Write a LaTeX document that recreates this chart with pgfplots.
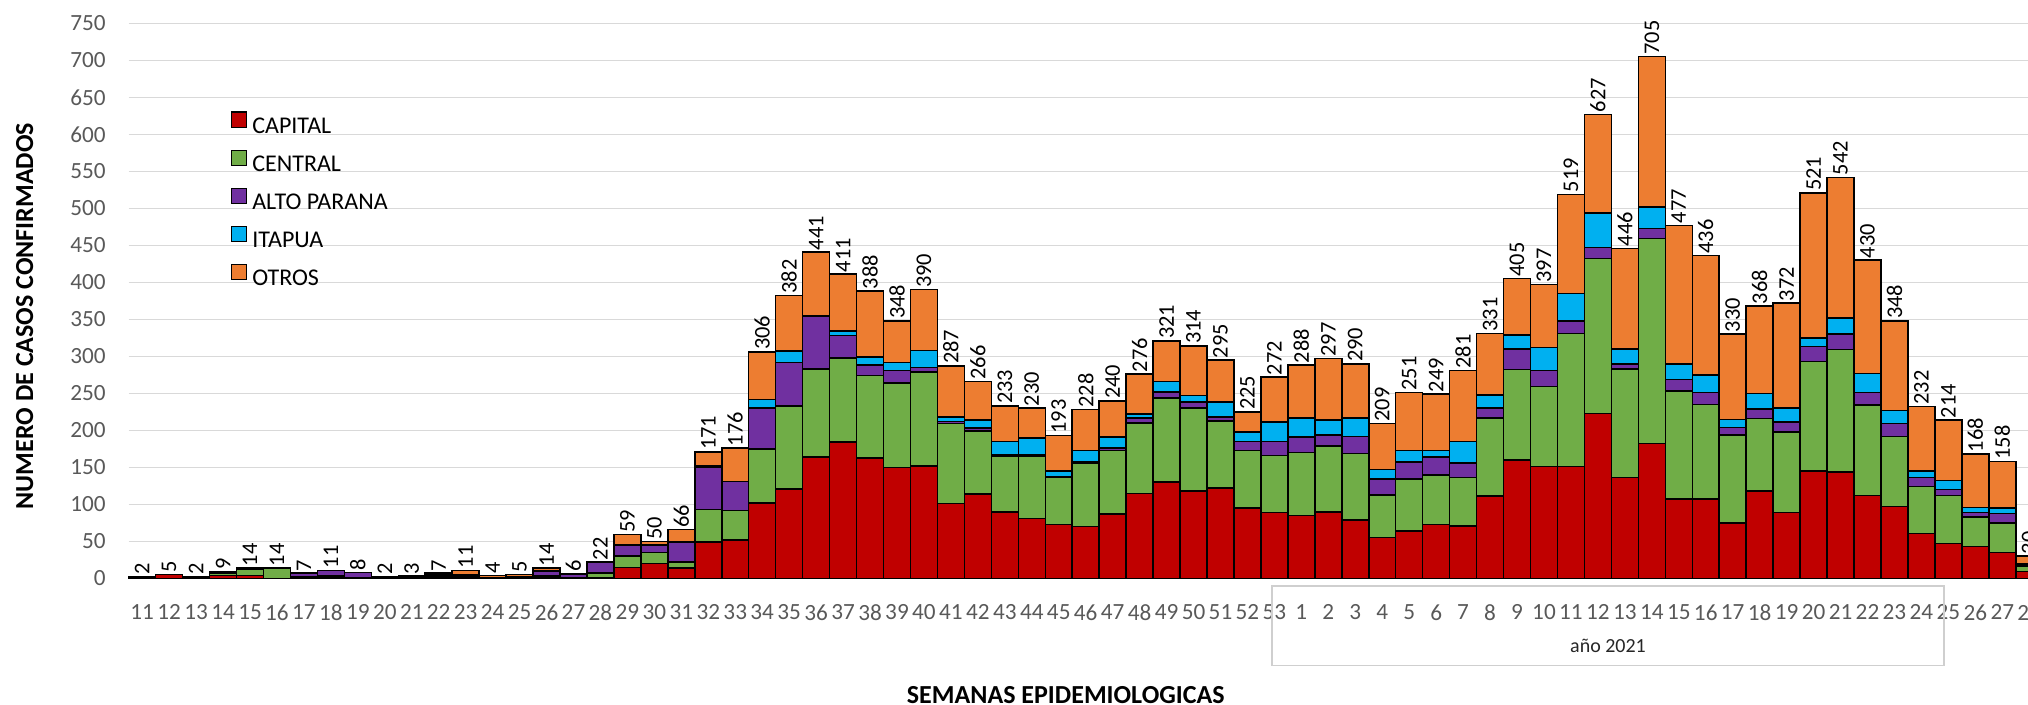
\documentclass[border=0pt]{standalone}
\usepackage{pgfplots}
\pgfplotsset{compat=1.18}
\usepackage{pgfplotstable}
\usepackage{fontspec}
\setmainfont{Carlito}
\definecolor{cCap}{HTML}{C00000}
\definecolor{cCen}{HTML}{70AD47}
\definecolor{cAlt}{HTML}{7030A0}
\definecolor{cIta}{HTML}{00B0F0}
\definecolor{cOtr}{HTML}{ED7D31}
\definecolor{tickgray}{HTML}{595959}
\definecolor{gridgray}{HTML}{D9D9D9}
\definecolor{boxgray}{HTML}{CFCFCF}

\pgfplotstableread{
x cap cen alto ita otros total
0 2 0 0 0 0 2
1 5 0 0 0 0 5
2 2 0 0 0 0 2
3 4 3 2 0 0 9
4 4 8 1 0 1 14
5 0 14 0 0 0 14
6 1 1 5 0 0 7
7 1 2 8 0 0 11
8 0 1 7 0 0 8
9 2 0 0 0 0 2
10 2 1 0 0 0 3
11 2 2 2 0 1 7
12 2 1 2 0 6 11
13 1 0 0 0 3 4
14 1 1 0 0 3 5
15 2 2 6 0 4 14
16 1 0 5 0 0 6
17 1 6 15 0 0 22
18 15 15 15 0 14 59
19 20 15 10 0 5 50
20 14 8 27 1 16 66
21 49 44 57 2 19 171
22 52 40 39 0 45 176
23 102 73 55 12 64 306
24 121 112 59 15 75 382
25 164 119 71 1 86 441
26 184 114 30 6 77 411
27 163 111 14 11 89 388
28 150 114 17 11 56 348
29 152 127 6 23 82 390
30 101 108 3 6 69 287
31 114 85 4 11 52 266
32 90 75 2 18 48 233
33 81 84 2 23 40 230
34 73 63 2 7 48 193
35 70 86 2 15 55 228
36 87 86 3 15 49 240
37 115 95 7 5 54 276
38 130 114 8 14 55 321
39 118 112 8 9 67 314
40 122 91 5 20 57 295
41 95 78 12 13 27 225
42 89 77 19 26 61 272
43 85 85 21 26 71 288
44 90 89 15 20 83 297
45 79 90 23 25 73 290
46 55 58 21 13 62 209
47 64 70 23 16 78 251
48 73 67 24 9 76 249
49 71 65 20 29 96 281
50 111 106 13 18 83 331
51 160 122 28 19 76 405
52 151 108 22 31 85 397
53 151 180 17 37 134 519
54 223 209 15 47 133 627
55 136 147 7 20 136 446
56 182 277 14 29 203 705
57 107 146 16 21 187 477
58 107 128 16 24 161 436
59 75 119 10 11 115 330
60 118 98 13 21 118 368
61 89 109 13 19 142 372
62 145 148 20 12 196 521
63 144 165 21 22 190 542
64 112 122 17 26 153 430
65 97 95 17 18 121 348
66 61 63 12 9 87 232
67 47 65 8 12 82 214
68 43 40 6 7 72 168
69 35 40 13 7 63 158
70 9 8 2 1 10 30
}\datatable

\begin{document}
\begin{tikzpicture}
\begin{axis}[
  at={(0pt,0pt)}, anchor=south west,
  scale only axis, width=957pt, height=277.55pt,
  xmin=-0.5, xmax=70.5, ymin=0, ymax=750,
  ybar stacked, bar width=1,
  clip=false,
  axis line style={draw=none},
  major tick length=0pt,
  tick style={draw=none},
  ytick={0,50,...,750},
  ymajorgrids, grid style={color=gridgray, line width=0.65pt},
  xtick={0,...,70},
  xticklabels={11,12,13,14,15,16,17,18,19,20,21,22,23,24,25,26,27,28,29,30,31,32,33,34,35,36,37,38,39,40,41,42,43,44,45,46,47,48,49,50,51,52,53,1,2,3,4,5,6,7,8,9,10,11,12,13,14,15,16,17,18,19,20,21,22,23,24,25,26,27,28},
  /pgf/number format/assume math mode=true,
  ticklabel style={font=\fontsize{11.6}{12}\selectfont, text=tickgray},
  yticklabel style={inner sep=0pt, anchor=east, xshift=-11.35pt},
  xticklabel style={inner sep=0pt, anchor=north, yshift=-12.95pt},
  xlabel={SEMANAS EPIDEMIOLOGICAS},
  xlabel style={at={(axis description cs:0.4896,-0.2101)}, anchor=center, font=\bfseries\fontsize{13}{13}\selectfont, inner sep=0pt},
  ylabel={NUMERO DE CASOS CONFIRMADOS},
  ylabel style={at={(axis description cs:-0.0543,0.4727)}, anchor=center, font=\bfseries\fontsize{13}{13}\selectfont, inner sep=0pt},
  legend style={at={(axis description cs:0.0533,0.8413)}, anchor=north west, draw=none, fill=none, inner sep=0pt, outer sep=0pt,
    font=\fontsize{12}{13}\selectfont, row sep=6.15pt,
    nodes={inner sep=0pt, text height=8pt, text depth=2pt},
    /tikz/every odd column/.append style={column sep=2.8pt}},
  legend cell align=left,
  sq/.style={legend image code/.code={\draw[##1, line width=0.6pt] (0pt,-0.05pt) rectangle (7.4pt,7.6pt);}},
]
\addplot[fill=cCap, draw=black, line width=0.75pt, sq] table[x=x, y=cap] {\datatable};
\addplot[fill=cCen, draw=black, line width=0.75pt, sq] table[x=x, y=cen] {\datatable};
\addplot[fill=cAlt, draw=black, line width=0.75pt, sq] table[x=x, y=alto] {\datatable};
\addplot[fill=cIta, draw=black, line width=0.75pt, sq] table[x=x, y=ita] {\datatable};
\addplot[fill=cOtr, draw=black, line width=0.75pt, sq] table[x=x, y=otros] {\datatable};
\legend{CAPITAL, CENTRAL, ALTO PARANA, ITAPUA, OTROS}
\end{axis}
\begin{axis}[
  at={(0pt,0pt)}, anchor=south west,
  scale only axis, width=957pt, height=277.55pt,
  xmin=-0.5, xmax=70.5, ymin=0, ymax=750,
  hide axis, clip=false,
  /pgf/number format/assume math mode=true,
]
\addplot[draw=none, mark=none, point meta=explicit,
  nodes near coords={\pgfmathprintnumber{\pgfplotspointmeta}},
  every node near coord/.append style={rotate=90, anchor=west, inner sep=0.8pt, text=black, font=\fontsize{11.2}{11}\selectfont}]
  table[x=x, y=total, meta=total] {\datatable};
\end{axis}
\draw[draw=boxgray, line width=0.65pt] (571.65pt,-3.8pt) rectangle (907.65pt,-43.45pt);
\node[anchor=base, inner sep=0pt, font=\fontsize{10}{10}\selectfont, text=black!85] at (739.65pt,-36.95pt) {año 2021};
\pgfresetboundingbox
\path[use as bounding box] (-64.35pt,-63.3pt) rectangle (949.65pt,289.2pt);
\end{tikzpicture}
\end{document}
